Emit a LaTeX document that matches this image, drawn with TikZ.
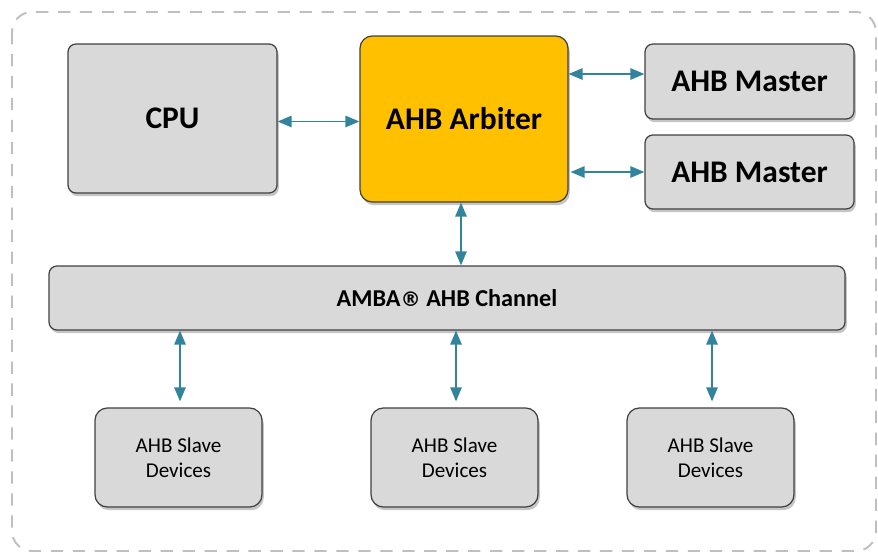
\documentclass[tikz,border=0pt]{standalone}
\usepackage{fontspec}
\setmainfont{Carlito}
\newfontfamily\regsign{DejaVu Sans}
\usetikzlibrary{arrows.meta,shadows}
\definecolor{busline}{HTML}{31849B}
\definecolor{boxfill}{HTML}{D9D9D9}
\definecolor{boxline}{HTML}{404040}
\definecolor{arbfill}{HTML}{FFC000}
\definecolor{frameline}{HTML}{BFBFBF}
\newcommand{\bigtxt}{\fontsize{17.9}{20}\selectfont\bfseries}
\newcommand{\chantxt}{\fontsize{13.8}{16}\selectfont\bfseries}
\newcommand{\slavetxt}{\fontsize{12}{14.2}\selectfont}

\begin{document}
\begin{tikzpicture}[
  block/.style={draw=boxline, line width=0.7pt, fill=boxfill, rounded corners=4.5pt,
    inner sep=0pt, align=center,
    drop shadow={shadow xshift=1pt, shadow yshift=-1.8pt, fill=black!45, opacity=0.5}},
  slave/.style={block, minimum width=3.34cm, minimum height=1.98cm, rounded corners=7pt,
    font=\slavetxt},
  link/.style={draw=busline, line width=0.9pt,
    {Triangle[length=8pt,width=6.5pt]}-{Triangle[length=8pt,width=6.5pt]}}]
\useasboundingbox (0,0) rectangle (17.56,-11.08);
\draw[frameline, line width=1.1pt, dash pattern=on 7pt off 5.5pt, rounded corners=0.4cm]
  (0.24,-0.24) rectangle (17.52,-11.02);

\node[block, minimum width=4.18cm, minimum height=2.98cm, font=\bigtxt] (cpu) at (3.45,-2.37) {CPU};
\node[block, fill=arbfill, minimum width=4.16cm, minimum height=3.32cm, rounded corners=7pt, font=\bigtxt] (arb) at (9.28,-2.38) {AHB Arbiter};
\node[block, minimum width=4.18cm, minimum height=1.5cm, font=\bigtxt] (mst-1) at (14.99,-1.63) {AHB Master};
\node[block, minimum width=4.18cm, minimum height=1.48cm, font=\bigtxt] (mst-2) at (14.99,-3.44) {AHB Master};
\node[block, minimum width=15.92cm, minimum height=1.28cm, font=\chantxt] (chan) at (8.94,-5.96) {AMBA{\regsign\fontsize{11.5}{14}\selectfont ®} AHB Channel};

\node[slave] (slv-1) at (3.57,-9.15) {AHB Slave\\Devices};
\node[slave] (slv-2) at (9.09,-9.15) {AHB Slave\\Devices};
\node[slave] (slv-3) at (14.21,-9.15) {AHB Slave\\Devices};

\draw[link] ([yshift=-0.06cm]cpu.east) -- ([yshift=-0.06cm]cpu.east -| arb.west);
\draw[link] ([yshift=0.15cm]mst-1.west -| arb.east) -- ([yshift=0.15cm]mst-1.west);
\draw[link] ([xshift=0.04cm]mst-2.west -| arb.east) -- (mst-2.west);
\draw[link] ([xshift=-0.06cm]arb.south) -- ([xshift=-0.06cm]arb.south |- chan.north);
\foreach \i in {1,2,3}
  \draw[link, shorten >=0.12cm] ([xshift=0.03cm]slv-\i.north |- chan.south) -- ([xshift=0.03cm]slv-\i.north);
\end{tikzpicture}
\end{document}
